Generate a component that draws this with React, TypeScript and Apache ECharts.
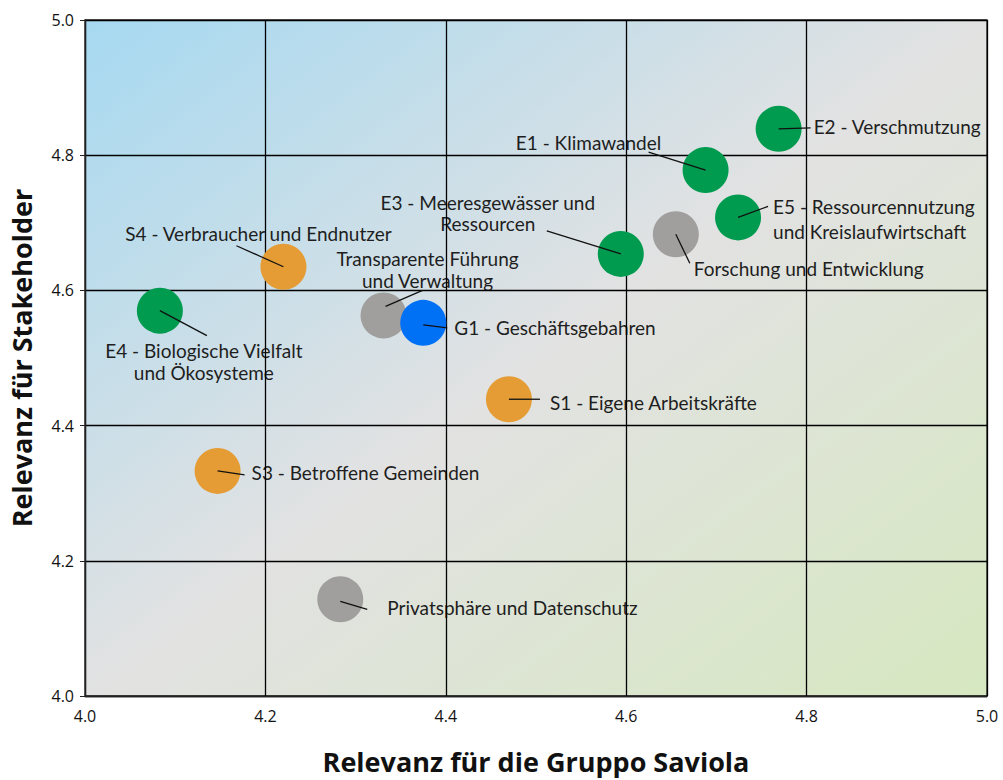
import React, { useEffect, useRef } from "react";
import * as echarts from "echarts";

const TOPICS = [
  "E2 - Verschmutzung",
  "E1 - Klimawandel",
  "E5 - Ressourcennutzung\nund Kreislaufwirtschaft",
  "Forschung und Entwicklung",
  "E3 - Meeresgewässer und\nRessourcen",
  "S4 - Verbraucher und Endnutzer",
  "E4 - Biologische Vielfalt\nund Ökosysteme",
  "Transparente Führung\nund Verwaltung",
  "G1 - Geschäftsgebahren",
  "S1 - Eigene Arbeitskräfte",
  "S3 - Betroffene Gemeinden",
  "Privatsphäre und Datenschutz",
];
const GROUP_RELEVANCE = [4.769, 4.688, 4.724, 4.655, 4.594, 4.22, 4.083, 4.331, 4.375, 4.47, 4.147, 4.283];
const STAKEHOLDER_RELEVANCE = [4.839, 4.778, 4.708, 4.683, 4.654, 4.635, 4.57, 4.563, 4.552, 4.439, 4.333, 4.143];
const TOPIC_TYPE = ["E", "E", "E", "O", "E", "S", "E", "O", "G", "S", "S", "O"];

const AXIS_MIN = 4.0;
const AXIS_MAX = 5.0;
const AXIS_STEP = 0.2;

const X_NAME = "Relevanz für die Gruppo Saviola";
const Y_NAME = "Relevanz für Stakeholder";

// styling / layout (pixel offsets of labels relative to each bubble)
const TYPE_COLORS: Record<string, string> = {
  E: "#009b4f",
  S: "#e59c35",
  G: "#0070f5",
  O: "#a09f9e",
};
const LABEL_LAYOUT = [
  { l0: [0, 0], l1: [32, -1], t: [35, -2], align: "left", lh: 22 },
  { l0: [0, 0], l1: [-57, -18], t: [-117, -28], align: "center", lh: 22 },
  { l0: [0, 0], l1: [30, -11], t: [35, 2], align: "left", lh: 25 },
  { l0: [0, 0], l1: [14, 29], t: [18, 34], align: "left", lh: 22 },
  { l0: [0, 0], l1: [-74, -23], t: [-133, -41], align: "center", lh: 21.5 },
  { l0: [0, 0], l1: [-47, -21], t: [-25, -33], align: "center", lh: 22 },
  { l0: [0, 0], l1: [47, 25], t: [44, 51], align: "center", lh: 21.5 },
  { l0: [2, -9], l1: [39, -25], t: [44, -46], align: "center", lh: 21.5 },
  { l0: [0, 2], l1: [24, 5], t: [31, 5], align: "left", lh: 22 },
  { l0: [0, 0], l1: [31, 0], t: [41, 3], align: "left", lh: 22 },
  { l0: [0, 0], l1: [27, 4], t: [34, 2], align: "left", lh: 22 },
  { l0: [0, 2], l1: [27, 10], t: [47, 8], align: "left", lh: 22 },
];
const LABEL_FONT = "Lato, 'Open Sans', sans-serif";
const FONT = "'Open Sans', Lato, sans-serif";

export default function App() {
  const ref = useRef<HTMLDivElement>(null);
  useEffect(() => {
    if (!ref.current) return;
    const chart = echarts.init(ref.current, undefined, { renderer: "svg", width: 1003, height: 780 });
    const points = TOPICS.map((name, i) => ({
      name,
      value: [GROUP_RELEVANCE[i], STAKEHOLDER_RELEVANCE[i]],
      itemStyle: { color: TYPE_COLORS[TOPIC_TYPE[i]], opacity: 1 },
    }));
    const valueData = TOPICS.map((_, i) => [GROUP_RELEVANCE[i], STAKEHOLDER_RELEVANCE[i]]);

    const axisCommon = {
      type: "value",
      min: AXIS_MIN,
      max: AXIS_MAX,
      interval: AXIS_STEP,
      z: 2,
      splitLine: { show: true, lineStyle: { color: "#000", width: 1.3 } },
      axisLine: { show: true, lineStyle: { color: "#222", width: 1.3 } },
      axisLabel: {
        color: "#111",
        fontFamily: FONT,
        fontSize: 16,
        formatter: (v: number) => v.toFixed(1),
      },
      nameLocation: "middle",
      nameTextStyle: { color: "#111", fontFamily: FONT, fontSize: 27, fontWeight: "bold" },
    };

    chart.setOption({
      animation: false,
      grid: {
        left: 82,
        top: 20,
        right: 16,
        bottom: 72,
        show: true,
        z: 0,
        borderColor: "#222",
        borderWidth: 1.3,
        backgroundColor: new echarts.graphic.LinearGradient(0, 0, 1, 1, [
          { offset: 0, color: "#a6d9f1" },
          { offset: 0.5, color: "#e2e2e2" },
          { offset: 1, color: "#d6e8c0" },
        ]),
      },
      xAxis: {
        ...axisCommon,
        name: X_NAME,
        nameGap: 52,
        axisTick: { show: false },
        axisLabel: { ...axisCommon.axisLabel, margin: 12 },
      },
      yAxis: {
        ...axisCommon,
        name: Y_NAME,
        nameGap: 50,
        axisTick: { show: true, length: 5, lineStyle: { color: "#222" } },
        axisLabel: { ...axisCommon.axisLabel, margin: 11 },
      },
      series: [
        {
          type: "custom",
          z: 1,
          data: valueData,
          renderItem: (params: any, api: any) => {
            const i = params.dataIndex;
            const c = api.coord([api.value(0), api.value(1)]);
            const L = LABEL_LAYOUT[i];
            return {
              type: "text",
              style: {
                text: TOPICS[i],
                x: c[0] + L.t[0],
                y: c[1] + L.t[1],
                align: L.align,
                verticalAlign: "middle",
                lineHeight: L.lh,
                fill: "#1e1e1e",
                fontFamily: LABEL_FONT,
                fontSize: 19,
              },
            };
          },
        },
        {
          type: "scatter",
          z: 3,
          symbol: "circle",
          symbolSize: 46,
          data: points,
        },
        {
          type: "custom",
          z: 4,
          data: valueData,
          renderItem: (params: any, api: any) => {
            const i = params.dataIndex;
            const c = api.coord([api.value(0), api.value(1)]);
            const L = LABEL_LAYOUT[i];
            return {
              type: "line",
              shape: {
                x1: c[0] + L.l0[0],
                y1: c[1] + L.l0[1],
                x2: c[0] + L.l1[0],
                y2: c[1] + L.l1[1],
              },
              style: { stroke: "#111", lineWidth: 1.3 },
            };
          },
        },
      ],
    });
    return () => chart.dispose();
  }, []);
  return (
    <div
      ref={ref}
      style={{ position: "absolute", left: 0, top: 0, width: 1003, height: 780 }}
    />
  );
}
